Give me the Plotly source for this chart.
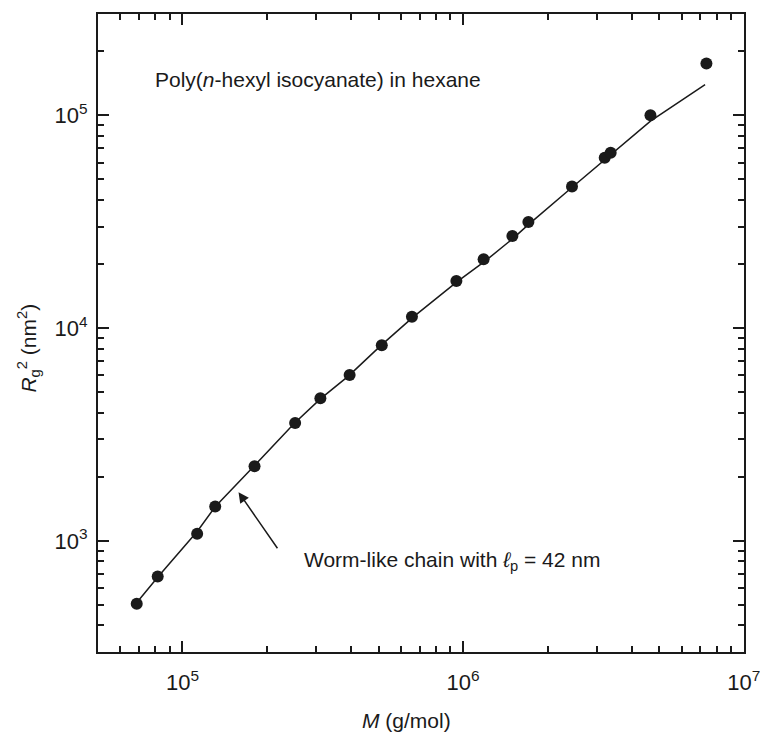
import numpy as np
import plotly.graph_objects as go

# Measured data: molar mass M (g/mol) and Rg^2 (nm^2)
M_data = [6.87e4, 8.16e4, 1.128e5, 1.308e5, 1.806e5, 2.52e5, 3.10e5, 3.94e5,
          5.13e5, 6.57e5, 9.46e5, 1.183e6, 1.498e6, 1.708e6, 2.443e6, 3.195e6,
          3.355e6, 4.65e6, 7.36e6]
Rg2_data = [506, 680, 1079, 1449, 2242, 3581, 4677, 6016, 8318, 11300, 16670,
            21080, 27120, 31550, 46290, 63300, 66800, 100300, 175400]

# Worm-like chain curve
M_wlc = [6.9e4, 8.2e4, 1.13e5, 1.31e5, 1.8e5, 2.5e5, 3.1e5, 3.9e5, 5.1e5,
         6.6e5, 9.5e5, 1.2e6, 1.5e6, 1.7e6, 2.4e6, 3.3e6, 4.65e6, 7.28e6]
Rg2_wlc = [515, 680, 1110, 1450, 2250, 3560, 4650, 5950, 8300, 11200, 16500,
           20700, 26300, 30500, 45000, 64000, 94000, 139800]

x_major = [1e5, 1e6, 1e7]
x_major_text = ["10<sup>5</sup>", "10<sup>6</sup>", "10<sup>7</sup>"]
y_major = [1e3, 1e4, 1e5]
y_major_text = ["10<sup>3</sup>", "10<sup>4</sup>", "10<sup>5</sup>"]

x_minor = [m * 10 ** e for e in range(4, 7) for m in range(2, 10)]
y_minor = [m * 10 ** e for e in range(2, 6) for m in range(2, 10)]

FONT = "Liberation Sans, Arial, Helvetica, sans-serif"
INK = "#1a1a1a"
FS = 21

fig = go.Figure()
fig.add_trace(go.Scatter(x=M_wlc, y=Rg2_wlc, mode="lines",
                         line=dict(color=INK, width=1.5), showlegend=False))
fig.add_trace(go.Scatter(x=M_data, y=Rg2_data, mode="markers",
                         marker=dict(color=INK, size=12, line=dict(width=0)),
                         showlegend=False))

axis_common = dict(
    type="log", showgrid=False, zeroline=False,
    showline=True, linecolor=INK, linewidth=2, mirror="allticks",
    ticks="inside", ticklen=11, tickwidth=1.5, tickcolor=INK,
    tickfont=dict(family=FONT, size=22, color=INK),
    ticklabeloverflow="allow", automargin=False,
)

fig.update_xaxes(range=[np.log10(5e4), 7.0008], tickvals=x_major, ticktext=x_major_text,
                 ticklabelstandoff=10,
                 minor=dict(ticks="inside", ticklen=6, tickwidth=1.5, tickcolor=INK,
                            tickvals=x_minor, showgrid=False),
                 **axis_common)
fig.update_yaxes(range=[np.log10(3e2), np.log10(3e5)], tickvals=y_major, ticktext=y_major_text,
                 ticklabelstandoff=4,
                 minor=dict(ticks="inside", ticklen=6, tickwidth=1.5, tickcolor=INK,
                            tickvals=y_minor, showgrid=False),
                 **axis_common)

annotations = [
    dict(text="Poly(<i>n</i>-hexyl isocyanate) in hexane", xref="paper", yref="paper",
         x=0.0851, y=0.8966, xanchor="left", yanchor="middle", showarrow=False,
         font=dict(family=FONT, size=FS, color=INK)),
    dict(text="Worm-like chain with <i>ℓ</i><sub>p</sub> = 42 nm", xref="paper", yref="paper",
         x=0.3158, y=0.142, xanchor="left", yanchor="middle", showarrow=False,
         font=dict(family=FONT, size=FS, color=INK)),
    dict(text="", x=np.log10(1.584e5), y=np.log10(1693), xref="x", yref="y",
         ax=np.log10(2.198e5), ay=np.log10(908), axref="x", ayref="y",
         showarrow=True, arrowhead=2, arrowsize=1.4, arrowwidth=1.5, arrowcolor=INK),
    dict(text="<i>M</i> (g/mol)", xref="paper", yref="paper", x=0.4768, y=-0.1066,
         xanchor="center", yanchor="middle", showarrow=False,
         font=dict(family=FONT, size=FS, color=INK)),
    dict(text="<i>R</i><sub>g</sub><sup>2</sup> (nm<sup>2</sup>)", xref="paper", yref="paper",
         x=-0.107, y=0.477, xanchor="center", yanchor="middle", showarrow=False,
         textangle=-90, font=dict(family=FONT, size=FS, color=INK)),
]

fig.update_layout(
    width=760, height=736,
    margin=dict(l=98, r=16, t=14, b=84, autoexpand=False),
    paper_bgcolor="white", plot_bgcolor="white",
    annotations=annotations,
    font=dict(family=FONT, color=INK),
)

fig.write_html("out.html", config={"displayModeBar": False},
               post_script="document.body.style.margin='0';document.body.style.padding='0';")
